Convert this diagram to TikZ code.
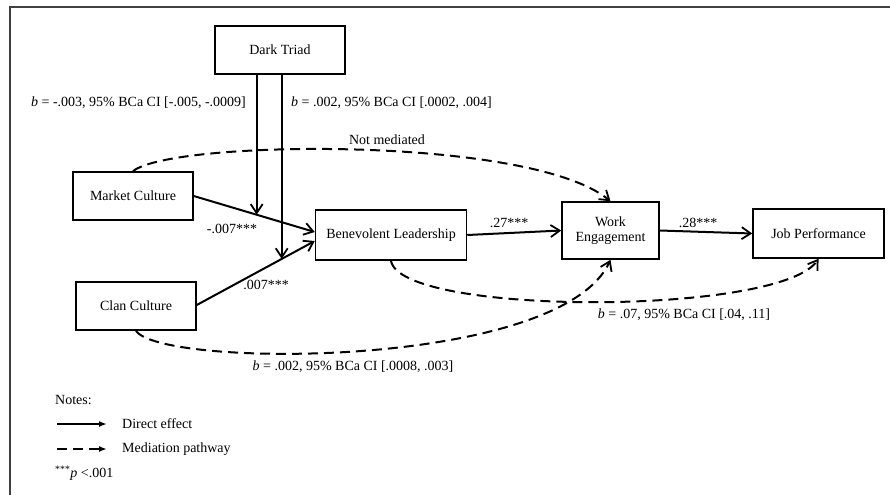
\documentclass[tikz,border=0pt]{standalone}
\usepackage{fontspec}
\setmainfont{Liberation Serif}
\usetikzlibrary{arrows.meta,calc}
\begin{document}
\begin{tikzpicture}[x=1pt,y=-1pt,
  font=\fontsize{14}{16}\selectfont,
  box/.style={draw,line width=1.5pt,inner sep=0pt,align=center},
  direct/.style={line width=2pt,-{Straight Barb[length=9pt,width=12pt,line width=1.8pt]}},
  medi/.style={line width=2pt,dash pattern=on 10pt off 6pt,-{Straight Barb[length=9pt,width=12pt,line width=1.8pt]}},
  lbl/.style={inner sep=1pt}]
\useasboundingbox (0,0) rectangle (890,495);
\draw[line width=1.8pt,black!75] (10,495) -- (10,7) -- (890,7);

\node[box,minimum width=130pt,minimum height=48pt] (DT) at (280,50) {Dark Triad};
\node[box,minimum width=120pt,minimum height=48pt] (MC) at (133,196) {Market Culture};
\node[box,minimum width=120pt,minimum height=48pt] (CC) at (136,306) {Clan Culture};
\node[box,minimum width=151pt,minimum height=50pt] (BL) at (391,235) {Benevolent Leadership};
\node[box,minimum width=97pt,minimum height=57pt] (WE) at (610.5,230.5) {Work\\[-1pt]Engagement};
\node[box,minimum width=131pt,minimum height=49pt] (JP) at (818.5,233.5) {Job Performance};

% direct paths
\draw[direct] (MC.east) -- ($(BL.west)+(0,-3)$) coordinate[pos=0.52] (mk);
\draw[direct] ($(CC.east)+(0,-1)$) -- ($(BL.west)+(0,6)$) coordinate[pos=0.72] (ck);
\draw[direct] (DT.south -| mk) -- (mk);
\draw[direct] (DT.south -| ck) -- (ck);
\draw[direct] (BL.east) -- (WE.west);
\draw[direct] (WE.east) -- (JP.west);

\node[lbl] (l1) at (232,229) {-.007***};
\node[lbl] (l2) at (266,285) {.007***};
\node[lbl] (l3) at (509,223) {.27***};
\node[lbl] (l4) at (698,223) {.28***};
\node[lbl] (l5) at (138.5,103) {\textit{b} = -.003, 95\% BCa CI [-.005, -.0009]};
\node[lbl] (l6) at (391.5,103) {\textit{b} = .002, 95\% BCa CI [.0002, .004]};

% mediation paths
\draw[medi] (MC.north) .. controls (170,140) and (530,135) .. (WE.north);
\draw[medi] (BL.south) .. controls (400,316) and (780,316) .. (JP.south);
\draw[medi] (CC.south) .. controls (160,368) and (560,370) .. (WE.south);

\node[lbl] (l7) at (387,140) {Not mediated};
\node[lbl] (l8) at (684,315) {\textit{b} = .07, 95\% BCa CI [.04, .11]};
\node[lbl] (l9) at (353,367) {\textit{b} = .002, 95\% BCa CI [.0008, .003]};

% legend
\node[lbl,anchor=west] (n0) at (54,400) {Notes:};
\coordinate (a1) at (57,424);
\coordinate (a2) at (107,424);
\coordinate (b1) at (57,449);
\coordinate (b2) at (107,449);
\draw[line width=1.8pt,-{Latex[length=8pt,width=6pt]}] (a1) -- (a2);
\draw[line width=1.8pt,dash pattern=on 10pt off 6pt,-{Latex[length=8pt,width=6pt]}] (b1) -- (b2);
\node[lbl,anchor=west] (n1) at (121,424) {Direct effect};
\node[lbl,anchor=west] (n2) at (121,449) {Mediation pathway};
\node[lbl,anchor=west] (n3) at (54,473) {\textsuperscript{***}\textit{p} <.001};
\end{tikzpicture}
\end{document}
